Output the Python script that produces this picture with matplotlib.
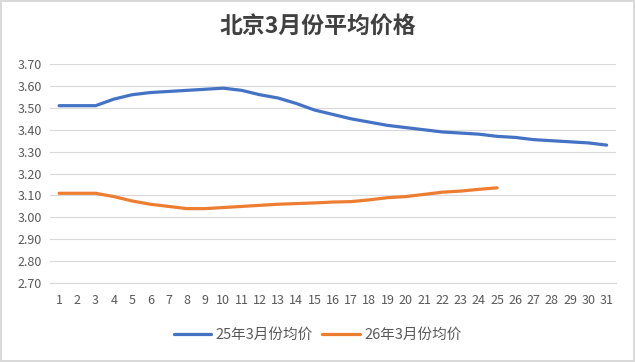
import matplotlib
matplotlib.use("Agg")
import matplotlib.pyplot as plt

plt.rcParams['font.family'] = ['Noto Sans CJK SC', 'DejaVu Sans']

days = list(range(1, 32))
price_25 = [3.51, 3.51, 3.51, 3.54, 3.56, 3.57, 3.575, 3.58, 3.585, 3.59,
            3.58, 3.56, 3.545, 3.52, 3.49, 3.47, 3.45, 3.435, 3.42, 3.41,
            3.40, 3.39, 3.385, 3.38, 3.37, 3.365, 3.355, 3.35, 3.345, 3.34, 3.33]
price_26 = [3.11, 3.11, 3.11, 3.095, 3.075, 3.06, 3.05, 3.04, 3.04, 3.045,
            3.05, 3.055, 3.06, 3.063, 3.066, 3.07, 3.072, 3.08, 3.09, 3.095,
            3.105, 3.115, 3.12, 3.128, 3.135]
label_25 = "25年3月份均价"
label_26 = "26年3月份均价"
title = "北京3月份平均价格"

txt = "#595959"
fig = plt.figure(figsize=(6.35, 3.62), dpi=100)
fig.patch.set_edgecolor("#d9d9d9")
fig.patch.set_linewidth(1.5)
ax = fig.add_axes([0.0787, 0.218, 0.891, 0.605])

ax.plot(days, price_25, color="#4472c4", lw=2.3, solid_capstyle="round", label=label_25)
ax.plot(days[:len(price_26)], price_26, color="#ed7d31", lw=2.3, solid_capstyle="round", label=label_26)

ax.set_xlim(0.5, 31.5)
ax.set_ylim(2.70, 3.70)
ax.set_yticks([2.7 + 0.1 * i for i in range(11)])
ax.set_yticklabels([f"{2.7 + 0.1 * i:.2f}" for i in range(11)])
ax.set_xticks(days)
ax.tick_params(axis="both", length=0, labelsize=9, colors=txt)
ax.tick_params(axis="x", pad=8)
ax.tick_params(axis="y", pad=6)
ax.grid(axis="y", color="#d9d9d9", lw=0.8)
ax.set_axisbelow(True)
for s in ["top", "right", "left"]:
    ax.spines[s].set_visible(False)
ax.spines["bottom"].set_color("#d9d9d9")

fig.text(0.5, 0.925, title, ha="center", va="center", fontsize=16.5, weight="bold", color="#404040")
fig.legend(loc="center", bbox_to_anchor=(0.5, 0.075), ncol=2, frameon=False,
           fontsize=10.5, labelcolor=txt, handlelength=2.6, handletextpad=0.3, columnspacing=0.6)

fig.savefig("out.png", dpi=100)
